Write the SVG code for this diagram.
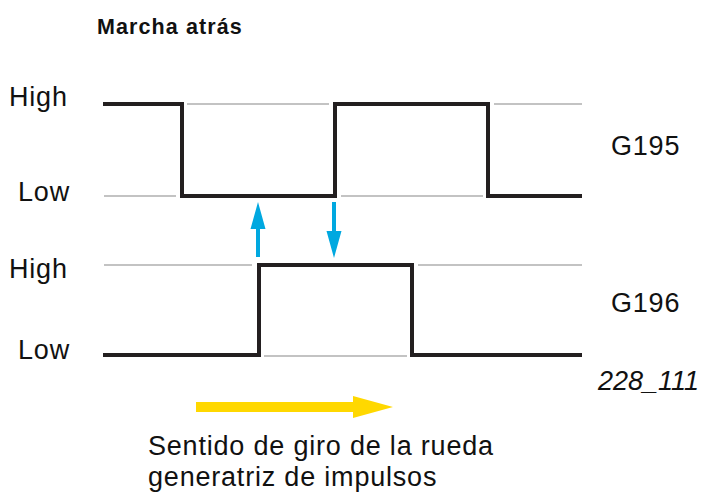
<svg xmlns="http://www.w3.org/2000/svg" width="702" height="495" viewBox="0 0 702 495">
<style>
text{font-family:"Liberation Sans",Arial,sans-serif;fill:#111}
.lbl{font-size:27px;letter-spacing:0.8px}
.ref{stroke:#888;stroke-width:1.2;fill:none}
.sig{stroke:#231f20;stroke-width:4;fill:none;stroke-linejoin:miter}
</style>
<rect width="702" height="495" fill="#fff"/>
<text x="97" y="34" style="font-size:21.5px;font-weight:bold;letter-spacing:1.1px">Marcha atrás</text>
<g id="labels">
<text class="lbl" x="9" y="106">High</text>
<text class="lbl" x="18" y="201">Low</text>
<text class="lbl" x="9" y="278">High</text>
<text class="lbl" x="18" y="359">Low</text>
<text class="lbl" x="611" y="155">G195</text>
<text class="lbl" x="611" y="312">G196</text>
<text class="lbl" x="598" y="390" style="font-style:italic;letter-spacing:0">228_111</text>
</g>
<g id="G195">
<path class="ref" d="M187 104H329M494 104H582M104 196H176M341 196H483"/>
<path class="sig" d="M103 104H182V196H335V104H488V196H582"/>
</g>
<g id="G196">
<path class="ref" d="M104 265H252M418 265H582M264 356H407"/>
<path class="sig" d="M103 355H259V265H412V355H582"/>
</g>
<g id="connectors" fill="#00a8e0">
<path d="M256 257V229H250.5L258 202L265.5 229H260V257Z"/>
<path d="M332 202V231H326.5L334 258L341.5 231H336V202Z"/>
<path fill="#ffd800" d="M196 402H353V396L393 407L353 418V412H196Z"/>
</g>
<text class="lbl" x="148" y="455">Sentido de giro de la rueda</text>
<text class="lbl" x="148" y="486">generatriz de impulsos</text>
</svg>
